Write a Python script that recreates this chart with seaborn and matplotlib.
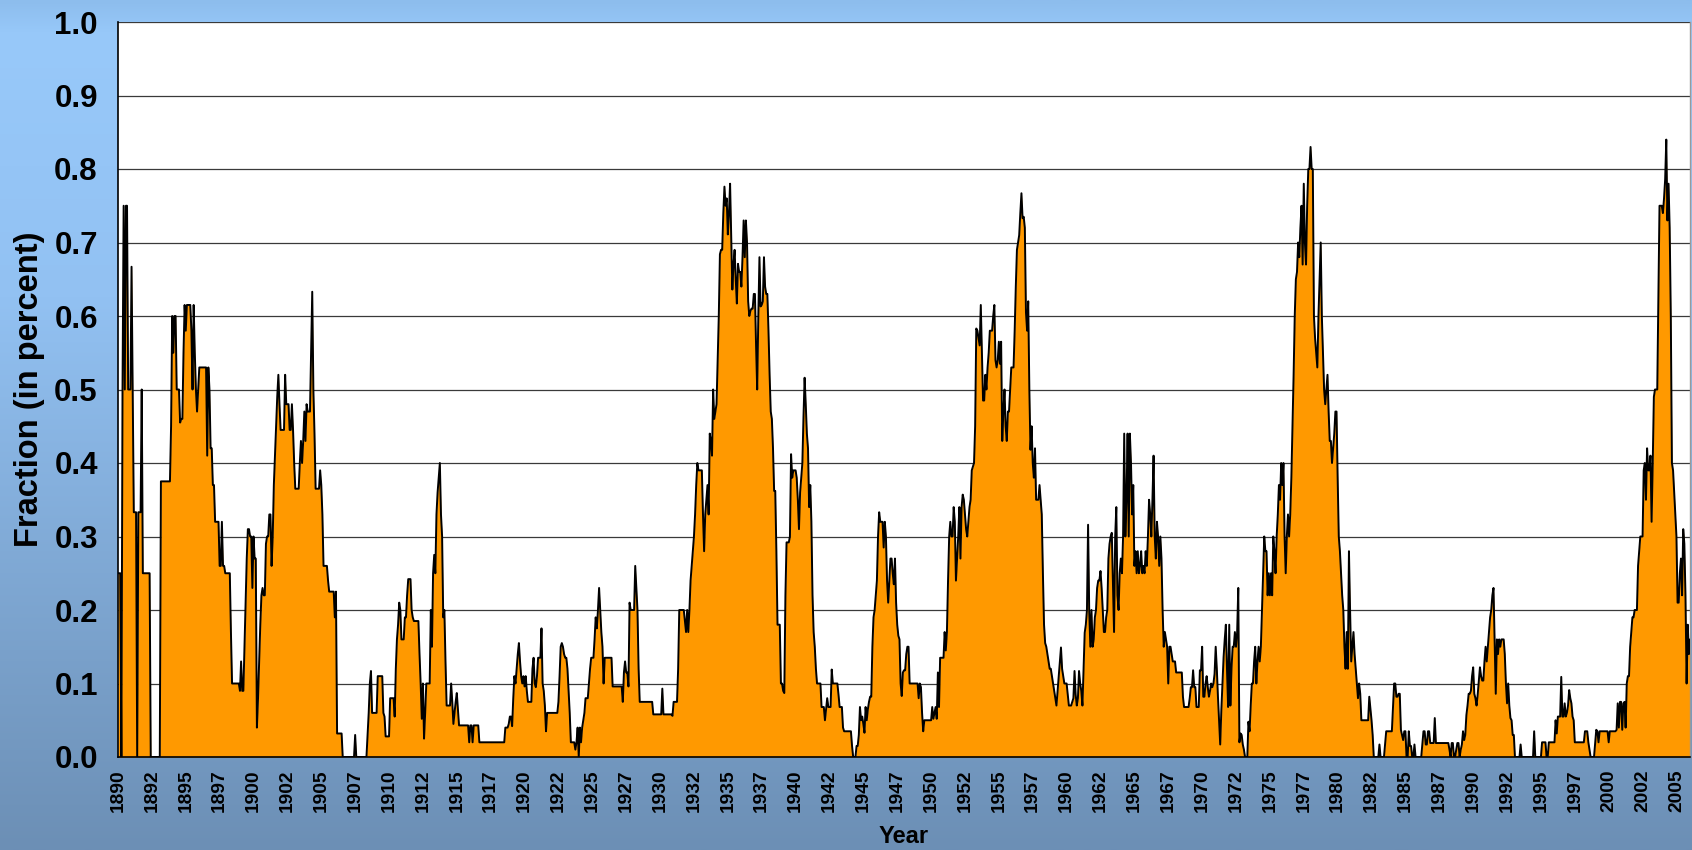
import numpy as np
import pandas as pd
import seaborn as sns
import matplotlib
matplotlib.use("Agg")
import matplotlib.pyplot as plt

# monthly values, one line per year (Jan..Dec)
y1890s = [
    0.25, 0.25, 0.25, 0, 0.5, 0.75, 0.5, 0.75, 0.75, 0.5, 0.5, 0.5,
    0.667, 0.5, 0.333, 0.333, 0.333, 0, 0.333, 0.333, 0.333, 0.5, 0.25, 0.25,
    0.25, 0.25, 0.25, 0.25, 0.25, 0, 0, 0, 0, 0, 0, 0,
    0, 0, 0.375, 0.375, 0.375, 0.375, 0.375, 0.375, 0.375, 0.375, 0.375, 0.45,
    0.6, 0.55, 0.6, 0.6, 0.5, 0.5, 0.5, 0.455, 0.46, 0.46, 0.55, 0.615,
    0.58, 0.615, 0.615, 0.615, 0.615, 0.58, 0.5, 0.615, 0.55, 0.5, 0.47, 0.5,
    0.53, 0.53, 0.53, 0.53, 0.53, 0.53, 0.53, 0.41, 0.53, 0.5, 0.42, 0.42,
    0.37, 0.37, 0.32, 0.32, 0.32, 0.32, 0.26, 0.26, 0.32, 0.26, 0.26, 0.25,
    0.25, 0.25, 0.25, 0.25, 0.17, 0.1, 0.1, 0.1, 0.1, 0.1, 0.1, 0.1,
    0.09, 0.13, 0.09, 0.09, 0.15, 0.21, 0.27, 0.31, 0.31, 0.3, 0.3, 0.23,
]
y1900s = [
    0.3, 0.27, 0.27, 0.04, 0.08, 0.13, 0.18, 0.22, 0.23, 0.22, 0.22, 0.29,
    0.3, 0.3, 0.33, 0.33, 0.26, 0.3, 0.37, 0.41, 0.45, 0.49, 0.52, 0.48,
    0.445, 0.445, 0.445, 0.445, 0.52, 0.48, 0.48, 0.48, 0.445, 0.445, 0.48, 0.445,
    0.4, 0.365, 0.365, 0.365, 0.365, 0.4, 0.43, 0.4, 0.43, 0.47, 0.43, 0.48,
    0.47, 0.47, 0.47, 0.55, 0.633, 0.5, 0.44, 0.365, 0.365, 0.365, 0.365, 0.39,
    0.37, 0.33, 0.26, 0.26, 0.26, 0.26, 0.24, 0.225, 0.225, 0.225, 0.225, 0.225,
    0.19, 0.225, 0.032, 0.032, 0.032, 0.032, 0.032, 0, 0, 0, 0, 0,
    0, 0, 0, 0, 0, 0, 0.03, 0, 0, 0, 0, 0,
    0, 0, 0, 0, 0, 0.03, 0.06, 0.1, 0.117, 0.06, 0.06, 0.06,
    0.06, 0.06, 0.11, 0.11, 0.11, 0.11, 0.11, 0.06, 0.055, 0.028, 0.028, 0.028,
]
y1910s = [
    0.028, 0.08, 0.08, 0.08, 0.08, 0.055, 0.12, 0.16, 0.18, 0.21, 0.2, 0.16,
    0.16, 0.16, 0.19, 0.19, 0.22, 0.242, 0.242, 0.242, 0.2, 0.19, 0.185, 0.185,
    0.185, 0.185, 0.185, 0.14, 0.1, 0.052, 0.1, 0.025, 0.06, 0.1, 0.1, 0.1,
    0.1, 0.2, 0.15, 0.25, 0.275, 0.25, 0.33, 0.36, 0.38, 0.4, 0.33, 0.3,
    0.19, 0.2, 0.13, 0.07, 0.07, 0.07, 0.07, 0.1, 0.075, 0.045, 0.06, 0.075,
    0.087, 0.065, 0.043, 0.043, 0.043, 0.043, 0.043, 0.043, 0.043, 0.043, 0.043, 0.02,
    0.043, 0.043, 0.02, 0.043, 0.043, 0.043, 0.043, 0.043, 0.02, 0.02, 0.02, 0.02,
    0.02, 0.02, 0.02, 0.02, 0.02, 0.02, 0.02, 0.02, 0.02, 0.02, 0.02, 0.02,
    0.02, 0.02, 0.02, 0.02, 0.02, 0.02, 0.02, 0.04, 0.04, 0.04, 0.045, 0.055,
    0.055, 0.042, 0.08, 0.11, 0.1, 0.12, 0.14, 0.155, 0.13, 0.11, 0.1, 0.11,
]
y1920s = [
    0.096, 0.11, 0.09, 0.075, 0.075, 0.075, 0.075, 0.12, 0.135, 0.1, 0.095, 0.11,
    0.135, 0.135, 0.135, 0.175, 0.1, 0.09, 0.07, 0.035, 0.06, 0.06, 0.06, 0.06,
    0.06, 0.06, 0.06, 0.06, 0.06, 0.06, 0.075, 0.11, 0.15, 0.155, 0.15, 0.14,
    0.135, 0.135, 0.12, 0.09, 0.06, 0.02, 0.02, 0.02, 0.02, 0.01, 0.02, 0.04,
    0.0, 0.04, 0.02, 0.04, 0.05, 0.06, 0.08, 0.08, 0.08, 0.1, 0.12, 0.135,
    0.135, 0.135, 0.16, 0.19, 0.175, 0.2, 0.23, 0.2, 0.17, 0.15, 0.1, 0.135,
    0.135, 0.135, 0.135, 0.135, 0.135, 0.135, 0.096, 0.096, 0.096, 0.096, 0.096, 0.096,
    0.096, 0.096, 0.096, 0.075, 0.115, 0.13, 0.115, 0.115, 0.096, 0.21, 0.2, 0.2,
    0.2, 0.2, 0.26, 0.23, 0.2, 0.12, 0.075, 0.075, 0.075, 0.075, 0.075, 0.075,
    0.075, 0.075, 0.075, 0.075, 0.075, 0.075, 0.058, 0.058, 0.058, 0.058, 0.058, 0.058,
]
y1930s = [
    0.058, 0.058, 0.093, 0.058, 0.058, 0.058, 0.058, 0.058, 0.058, 0.058, 0.058, 0.056,
    0.075, 0.075, 0.075, 0.075, 0.12, 0.2, 0.2, 0.2, 0.2, 0.2, 0.185, 0.17,
    0.2, 0.17, 0.2, 0.24, 0.26, 0.28, 0.3, 0.33, 0.37, 0.4, 0.39, 0.39,
    0.39, 0.39, 0.33, 0.28, 0.33, 0.35, 0.37, 0.33, 0.44, 0.43, 0.41, 0.5,
    0.46, 0.47, 0.48, 0.54, 0.6, 0.684, 0.69, 0.69, 0.74, 0.776, 0.75, 0.76,
    0.711, 0.74, 0.78, 0.71, 0.636, 0.67, 0.69, 0.65, 0.617, 0.671, 0.66, 0.66,
    0.64, 0.68, 0.73, 0.68, 0.73, 0.7, 0.62, 0.6, 0.607, 0.61, 0.61, 0.63,
    0.63, 0.56, 0.5, 0.6, 0.68, 0.613, 0.615, 0.62, 0.68, 0.64, 0.63, 0.63,
    0.58, 0.52, 0.47, 0.46, 0.42, 0.362, 0.362, 0.28, 0.18, 0.18, 0.18, 0.1,
    0.1, 0.09, 0.087, 0.22, 0.292, 0.292, 0.292, 0.3, 0.412, 0.38, 0.39, 0.39,
]
y1940s = [
    0.39, 0.38, 0.35, 0.31, 0.36, 0.38, 0.4, 0.463, 0.516, 0.48, 0.44, 0.42,
    0.34, 0.37, 0.32, 0.22, 0.17, 0.15, 0.12, 0.1, 0.1, 0.1, 0.1, 0.068,
    0.068, 0.068, 0.05, 0.065, 0.08, 0.068, 0.068, 0.068, 0.119, 0.1, 0.1, 0.1,
    0.1, 0.1, 0.085, 0.068, 0.068, 0.068, 0.04, 0.035, 0.035, 0.035, 0.035, 0.035,
    0.035, 0.035, 0.015, 0, 0, 0, 0.015, 0.015, 0.03, 0.068, 0.05, 0.055,
    0.045, 0.033, 0.068, 0.05, 0.065, 0.075, 0.082, 0.082, 0.15, 0.19, 0.2, 0.22,
    0.24, 0.3, 0.333, 0.32, 0.32, 0.32, 0.285, 0.32, 0.3, 0.24, 0.21, 0.24,
    0.27, 0.27, 0.25, 0.235, 0.27, 0.21, 0.18, 0.165, 0.16, 0.1, 0.083, 0.115,
    0.118, 0.118, 0.14, 0.15, 0.15, 0.1, 0.1, 0.1, 0.1, 0.1, 0.1, 0.1,
    0.1, 0.08, 0.1, 0.095, 0.06, 0.035, 0.05, 0.05, 0.05, 0.05, 0.05, 0.05,
]
y1950s = [
    0.05, 0.068, 0.052, 0.06, 0.068, 0.052, 0.115, 0.068, 0.135, 0.135, 0.135, 0.135,
    0.17, 0.145, 0.17, 0.24, 0.3, 0.32, 0.3, 0.3, 0.34, 0.32, 0.24, 0.27,
    0.3, 0.34, 0.27, 0.34, 0.357, 0.35, 0.33, 0.31, 0.3, 0.32, 0.34, 0.35,
    0.39, 0.395, 0.4, 0.45, 0.583, 0.58, 0.57, 0.56, 0.615, 0.55, 0.485, 0.485,
    0.52, 0.5, 0.53, 0.55, 0.58, 0.58, 0.58, 0.6, 0.615, 0.54, 0.53, 0.54,
    0.565, 0.535, 0.565, 0.43, 0.47, 0.5, 0.45, 0.43, 0.47, 0.47, 0.5, 0.53,
    0.53, 0.53, 0.58, 0.64, 0.69, 0.7, 0.71, 0.74, 0.767, 0.733, 0.735, 0.72,
    0.605, 0.58, 0.62, 0.5, 0.418, 0.45, 0.4, 0.38, 0.42, 0.35, 0.35, 0.35,
    0.37, 0.35, 0.33, 0.25, 0.18, 0.155, 0.15, 0.14, 0.13, 0.12, 0.12, 0.11,
    0.1, 0.09, 0.08, 0.07, 0.09, 0.11, 0.13, 0.149, 0.12, 0.11, 0.1, 0.1,
]
y1960s = [
    0.1, 0.085, 0.07, 0.07, 0.07, 0.075, 0.08, 0.117, 0.085, 0.07, 0.08, 0.117,
    0.1, 0.09, 0.07, 0.12, 0.169, 0.18, 0.2, 0.316, 0.2, 0.15, 0.2, 0.15,
    0.16, 0.19, 0.2, 0.23, 0.24, 0.24, 0.253, 0.23, 0.2, 0.17, 0.17, 0.19,
    0.2, 0.27, 0.29, 0.3, 0.305, 0.24, 0.17, 0.3, 0.34, 0.22, 0.2, 0.25,
    0.27, 0.25, 0.3, 0.44, 0.3, 0.35, 0.44, 0.3, 0.44, 0.4, 0.33, 0.37,
    0.26, 0.28, 0.25, 0.28, 0.25, 0.26, 0.28, 0.25, 0.26, 0.25, 0.28, 0.26,
    0.3, 0.35, 0.33, 0.3, 0.35, 0.41, 0.3, 0.27, 0.32, 0.3, 0.26, 0.3,
    0.27, 0.2, 0.15, 0.17, 0.16, 0.15, 0.1, 0.15, 0.15, 0.14, 0.13, 0.13,
    0.13, 0.115, 0.115, 0.115, 0.115, 0.115, 0.115, 0.082, 0.068, 0.068, 0.068, 0.068,
    0.068, 0.08, 0.095, 0.095, 0.118, 0.095, 0.095, 0.068, 0.068, 0.068, 0.118, 0.118,
]
y1970s = [
    0.15, 0.082, 0.082, 0.1, 0.11, 0.095, 0.082, 0.09, 0.1, 0.095, 0.1, 0.113,
    0.15, 0.12, 0.082, 0.05, 0.017, 0.064, 0.1, 0.136, 0.16, 0.18, 0.12, 0.068,
    0.18, 0.07, 0.12, 0.15, 0.15, 0.17, 0.15, 0.17, 0.23, 0.02, 0.032, 0.03,
    0.017, 0.01, 0, 0, 0, 0.048, 0.035, 0.07, 0.1, 0.1, 0.13, 0.15,
    0.1, 0.13, 0.15, 0.13, 0.15, 0.2, 0.25, 0.3, 0.28, 0.28, 0.22, 0.25,
    0.22, 0.25, 0.22, 0.3, 0.28, 0.25, 0.3, 0.33, 0.37, 0.35, 0.4, 0.37,
    0.4, 0.3, 0.25, 0.3, 0.33, 0.3, 0.33, 0.38, 0.45, 0.52, 0.6, 0.65,
    0.66, 0.7, 0.68, 0.72, 0.75, 0.67, 0.78, 0.7, 0.67, 0.75, 0.8, 0.8,
    0.83, 0.8, 0.8, 0.6, 0.57, 0.55, 0.53, 0.6, 0.65, 0.7, 0.6, 0.55,
    0.5, 0.48, 0.5, 0.52, 0.47, 0.43, 0.43, 0.4, 0.42, 0.44, 0.47, 0.47,
]
y1980s = [
    0.38, 0.3, 0.28, 0.25, 0.22, 0.2, 0.15, 0.12, 0.17, 0.12, 0.28, 0.2,
    0.13, 0.15, 0.17, 0.14, 0.12, 0.1, 0.08, 0.1, 0.086, 0.05, 0.05, 0.05,
    0.05, 0.05, 0.05, 0.05, 0.082, 0.066, 0.05, 0.03, 0, 0, 0, 0,
    0, 0.017, 0, 0, 0, 0, 0.017, 0.035, 0.035, 0.035, 0.035, 0.035,
    0.035, 0.068, 0.1, 0.1, 0.082, 0.082, 0.086, 0.086, 0.037, 0.03, 0.023, 0.035,
    0.035, 0, 0, 0.035, 0.015, 0.015, 0, 0, 0.017, 0, 0, 0,
    0, 0, 0, 0.017, 0.035, 0.035, 0.017, 0.017, 0.035, 0.035, 0.019, 0.019,
    0.019, 0.019, 0.053, 0.019, 0.019, 0.019, 0.019, 0.019, 0.019, 0.019, 0.019, 0.019,
    0.019, 0.019, 0.019, 0.01, 0, 0.019, 0.019, 0, 0, 0.01, 0.019, 0.019,
    0, 0.01, 0.017, 0.035, 0.023, 0.03, 0.057, 0.07, 0.086, 0.086, 0.09, 0.11,
]
y1990s = [
    0.122, 0.086, 0.08, 0.07, 0.085, 0.104, 0.122, 0.11, 0.104, 0.104, 0.13, 0.15,
    0.13, 0.15, 0.17, 0.19, 0.2, 0.22, 0.23, 0.16, 0.086, 0.16, 0.14, 0.16,
    0.15, 0.16, 0.16, 0.16, 0.14, 0.1, 0.073, 0.1, 0.07, 0.053, 0.05, 0.03,
    0.03, 0, 0, 0, 0, 0, 0.017, 0, 0, 0, 0, 0,
    0, 0, 0, 0, 0, 0, 0.035, 0, 0, 0, 0, 0,
    0, 0.02, 0.02, 0.02, 0.02, 0, 0, 0.02, 0.02, 0.02, 0.02, 0.02,
    0.02, 0.05, 0.032, 0.055, 0.055, 0.055, 0.109, 0.055, 0.055, 0.073, 0.055, 0.06,
    0.07, 0.091, 0.08, 0.073, 0.055, 0.05, 0.02, 0.02, 0.02, 0.02, 0.02, 0.02,
    0.02, 0.02, 0.02, 0.035, 0.035, 0.035, 0.02, 0.01, 0, 0, 0, 0,
    0.019, 0.037, 0.035, 0.02, 0.035, 0.035, 0.035, 0.035, 0.035, 0.035, 0.035, 0.035,
]
y2000s = [
    0.02, 0.035, 0.035, 0.035, 0.035, 0.035, 0.035, 0.037, 0.073, 0.04, 0.075, 0.075,
    0.037, 0.073, 0.075, 0.04, 0.1, 0.11, 0.11, 0.15, 0.17, 0.19, 0.19, 0.2,
    0.2, 0.2, 0.26, 0.28, 0.3, 0.3, 0.3, 0.39, 0.4, 0.35, 0.42, 0.39,
    0.39, 0.41, 0.32, 0.4, 0.49, 0.5, 0.5, 0.5, 0.62, 0.75, 0.75, 0.75,
    0.74, 0.76, 0.786, 0.84, 0.73, 0.78, 0.72, 0.6, 0.4, 0.39, 0.36, 0.33,
    0.3, 0.21, 0.21, 0.25, 0.27, 0.22, 0.31, 0.29, 0.22, 0.1, 0.18, 0.14,
    0.16,
]

start_year = 1890
label_step = 30   # a year label every 30 months
tick_step = 12    # a tick mark every year

values = (y1890s + y1900s + y1910s + y1920s + y1930s + y1940s
          + y1950s + y1960s + y1970s + y1980s + y1990s + y2000s)
df = pd.DataFrame({"month": np.arange(len(values)), "fraction": values})
n = len(df)

sns.set_style("white")
plt.rcParams["font.family"] = ["Liberation Sans", "DejaVu Sans"]
plt.rcParams["font.weight"] = "bold"
for key in ["text.color", "axes.labelcolor", "xtick.color", "ytick.color"]:
    plt.rcParams[key] = "black"

W, H = 1692, 850
fig = plt.figure(figsize=(W / 100, H / 100), dpi=100)

# blue gradient behind everything
bg = fig.add_axes([0, 0, 1, 1], zorder=-10)
rows = np.linspace(0, 1, 400)
stops = [0.0, 0.04, 0.35, 1.0]
cols = np.array([[141, 189, 237], [152, 201, 250], [146, 193, 242], [108, 143, 181]]) / 255
grad = np.stack([np.interp(rows, stops, cols[:, c]) for c in range(3)], axis=1)
bg.imshow(grad[:, None, :], aspect="auto", extent=[0, 1, 0, 1])
bg.set_axis_off()

ax = fig.add_axes([118 / W, 93 / H, 1572 / W, 735 / H])
ax.set_facecolor("white")

ax.fill_between(df["month"], df["fraction"], 0, color="#FF9900", lw=0, zorder=2)
sns.lineplot(data=df, x="month", y="fraction", color="black", lw=1.4,
             ax=ax, zorder=3, legend=False)

ax.set_xlim(0, n - 1)
ax.set_ylim(0, 1)

# y axis
ax.set_yticks(np.arange(0, 1.01, 0.1))
ax.set_yticklabels([f"{v:.1f}" for v in np.arange(0, 1.01, 0.1)])
ax.yaxis.grid(True, color="#3a3a3a", lw=0.9, zorder=0)
ax.set_axisbelow(True)
ax.tick_params(axis="y", direction="out", length=6.5, width=1, color="#333333",
               pad=8, labelsize=22.5)

# x axis: ticks yearly, labels every 30 months
label_pos = list(range(0, n, label_step))
ax.set_xticks(label_pos)
ax.set_xticklabels([str(start_year + p // 12) for p in label_pos], rotation=90)
ax.set_xticks(list(range(0, n, tick_step)), minor=True)
ax.tick_params(axis="x", which="major", length=0, pad=9, labelsize=13.8)
ax.tick_params(axis="x", which="minor", direction="out", length=5, width=1,
               color="#222222")

for lab in ax.get_xticklabels() + ax.get_yticklabels():
    lab.set_fontweight("bold")

ax.set_ylabel("Fraction (in percent)", fontsize=23.5, fontweight="bold")
ax.yaxis.set_label_coords(-0.0566, 0.5)
ax.yaxis.label.set_va("center")
ax.set_xlabel("Year", fontsize=17, fontweight="bold")
ax.xaxis.set_label_coords(0.5, -0.1075)
ax.xaxis.label.set_va("center")

for side in ["left", "bottom"]:
    ax.spines[side].set_color("black")
    ax.spines[side].set_linewidth(1.2)
ax.spines["top"].set_visible(False)
ax.spines["right"].set_color("#9a9a9a")
ax.spines["right"].set_linewidth(1.0)

fig.savefig("out.png", dpi=100)
